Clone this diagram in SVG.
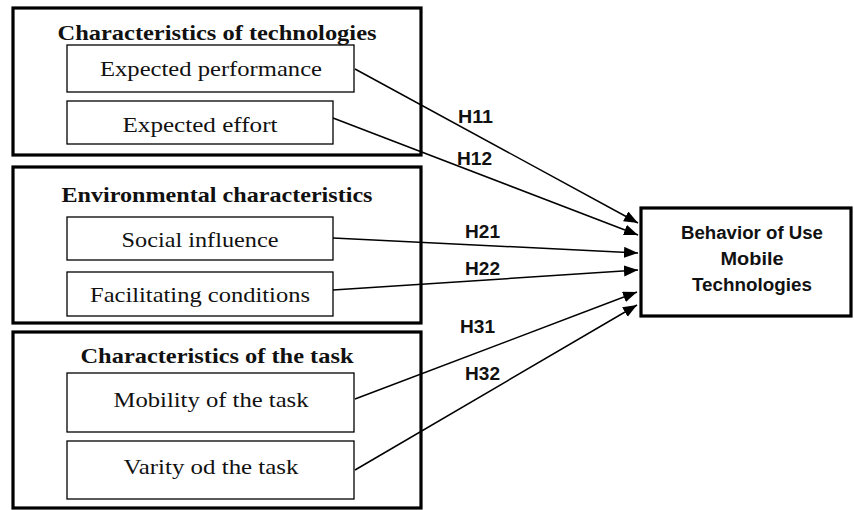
<svg xmlns="http://www.w3.org/2000/svg" width="854" height="510" viewBox="0 0 854 510">
<style>
.outer{fill:#fff;stroke:#000;stroke-width:3.2}
.inner{fill:#fff;stroke:#000;stroke-width:1.3}
.title{font-family:"Liberation Serif",serif;font-weight:bold;font-size:22px;fill:#111;text-anchor:middle}
.item{font-family:"Liberation Serif",serif;font-size:22px;fill:#111;text-anchor:middle}
.lbl{font-family:"Liberation Sans",Arial,sans-serif;font-weight:bold;font-size:18px;fill:#111}
.tgt{font-family:"Liberation Sans",Arial,sans-serif;font-weight:bold;font-size:18px;fill:#111;text-anchor:middle}
.conn{stroke:#000;stroke-width:1.5;fill:none;marker-end:url(#ah)}
</style>
<defs>
<marker id="ah" markerUnits="userSpaceOnUse" markerWidth="16" markerHeight="12" refX="14" refY="5.5" orient="auto">
<path d="M0,0 L14,5.5 L0,11 Z" fill="#000"/>
</marker>
</defs>
<rect width="854" height="510" fill="#fff"/>
<g id="group-technologies">
<rect class="outer" x="13" y="8" width="408" height="147"/>
<text class="title" x="217" y="40" textLength="319" lengthAdjust="spacingAndGlyphs">Characteristics of technologies</text>
</g>
<g id="expected-performance">
<rect class="inner" x="67" y="45" width="287" height="47"/>
<text class="item" x="211" y="76" textLength="222" lengthAdjust="spacingAndGlyphs">Expected performance</text>
</g>
<g id="expected-effort">
<rect class="inner" x="67" y="101" width="266" height="43"/>
<text class="item" x="200" y="132" textLength="155" lengthAdjust="spacingAndGlyphs">Expected effort</text>
</g>
<g id="group-environment">
<rect class="outer" x="13" y="167" width="408" height="156"/>
<text class="title" x="217" y="202" textLength="311" lengthAdjust="spacingAndGlyphs">Environmental characteristics</text>
</g>
<g id="social-influence">
<rect class="inner" x="67" y="217" width="266" height="43"/>
<text class="item" x="200" y="247" textLength="157" lengthAdjust="spacingAndGlyphs">Social influence</text>
</g>
<g id="facilitating-conditions">
<rect class="inner" x="67" y="272" width="266" height="44"/>
<text class="item" x="200" y="302" textLength="220" lengthAdjust="spacingAndGlyphs">Facilitating conditions</text>
</g>
<g id="group-task">
<rect class="outer" x="13" y="332" width="408" height="176"/>
<text class="title" x="217" y="363" textLength="273" lengthAdjust="spacingAndGlyphs">Characteristics of the task</text>
</g>
<g id="mobility-task">
<rect class="inner" x="67" y="373" width="287" height="59"/>
<text class="item" x="211" y="407" textLength="195" lengthAdjust="spacingAndGlyphs">Mobility of the task</text>
</g>
<g id="variety-task">
<rect class="inner" x="67" y="441" width="287" height="58"/>
<text class="item" x="211" y="474" textLength="175" lengthAdjust="spacingAndGlyphs">Varity od the task</text>
</g>
<g id="behavior">
<rect class="outer" x="641" y="208" width="210" height="108"/>
<text class="tgt" x="752" y="239" textLength="142" lengthAdjust="spacingAndGlyphs">Behavior of Use</text>
<text class="tgt" x="752" y="265" textLength="63" lengthAdjust="spacingAndGlyphs">Mobile</text>
<text class="tgt" x="752" y="291" textLength="120" lengthAdjust="spacingAndGlyphs">Technologies</text>
</g>
<g id="connectors">
<line class="conn" x1="355" y1="69" x2="638" y2="223"/>
<line class="conn" x1="333" y1="118" x2="638" y2="235"/>
<line class="conn" x1="333" y1="238" x2="638" y2="253"/>
<line class="conn" x1="333" y1="290" x2="638" y2="270"/>
<line class="conn" x1="355" y1="399" x2="637" y2="292"/>
<line class="conn" x1="355" y1="470" x2="637" y2="305"/>
<text class="lbl" x="458" y="123" textLength="35" lengthAdjust="spacingAndGlyphs">H11</text>
<text class="lbl" x="457" y="165" textLength="35" lengthAdjust="spacingAndGlyphs">H12</text>
<text class="lbl" x="465" y="238" textLength="35" lengthAdjust="spacingAndGlyphs">H21</text>
<text class="lbl" x="465" y="275" textLength="35" lengthAdjust="spacingAndGlyphs">H22</text>
<text class="lbl" x="460" y="333" textLength="35" lengthAdjust="spacingAndGlyphs">H31</text>
<text class="lbl" x="465" y="380" textLength="35" lengthAdjust="spacingAndGlyphs">H32</text>
</g>
</svg>
